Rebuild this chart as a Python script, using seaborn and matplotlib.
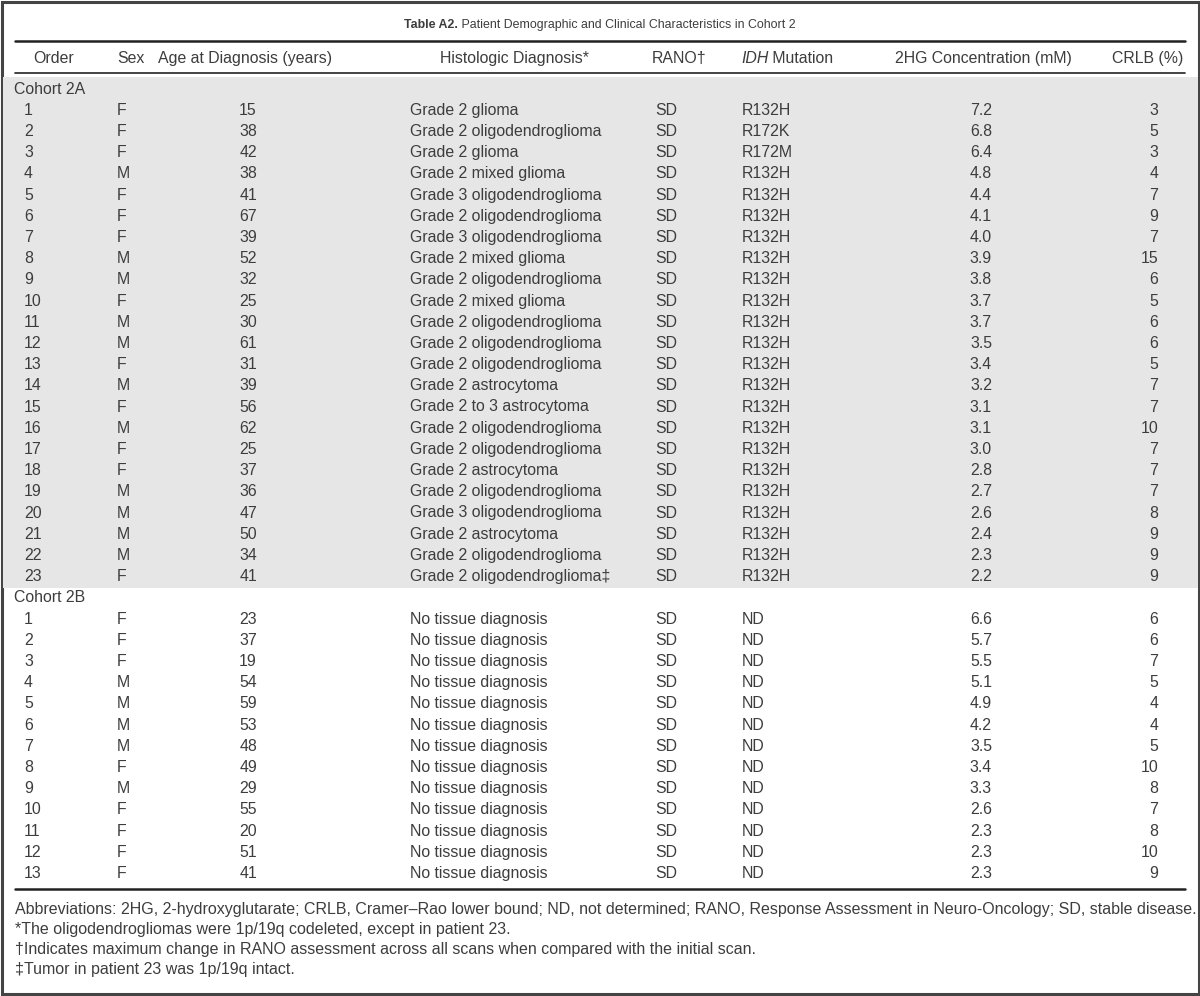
import matplotlib
matplotlib.use("Agg")
import matplotlib.pyplot as plt
import seaborn as sns
import pandas as pd
from matplotlib.patches import Rectangle

# ---- dados da tabela (Cohort 2A) ----
ordem_a = [1, 2, 3, 4, 5, 6, 7, 8, 9, 10, 11, 12, 13, 14, 15, 16, 17, 18, 19, 20, 21, 22, 23]
sexo_a = ["F", "F", "F", "M", "F", "F", "F", "M", "M", "F", "M", "M", "F", "M", "F", "M",
          "F", "F", "M", "M", "M", "M", "F"]
idade_a = [15, 38, 42, 38, 41, 67, 39, 52, 32, 25, 30, 61, 31, 39, 56, 62, 25, 37, 36, 47, 50, 34, 41]
histo_a = ["Grade 2 glioma", "Grade 2 oligodendroglioma", "Grade 2 glioma", "Grade 2 mixed glioma",
           "Grade 3 oligodendroglioma", "Grade 2 oligodendroglioma", "Grade 3 oligodendroglioma",
           "Grade 2 mixed glioma", "Grade 2 oligodendroglioma", "Grade 2 mixed glioma",
           "Grade 2 oligodendroglioma", "Grade 2 oligodendroglioma", "Grade 2 oligodendroglioma",
           "Grade 2 astrocytoma", "Grade 2 to 3 astrocytoma", "Grade 2 oligodendroglioma",
           "Grade 2 oligodendroglioma", "Grade 2 astrocytoma", "Grade 2 oligodendroglioma",
           "Grade 3 oligodendroglioma", "Grade 2 astrocytoma", "Grade 2 oligodendroglioma",
           "Grade 2 oligodendroglioma\u2021"]
rano_a = ["SD"] * 23
idh_a = ["R132H", "R172K", "R172M", "R132H", "R132H", "R132H", "R132H", "R132H", "R132H", "R132H",
         "R132H", "R132H", "R132H", "R132H", "R132H", "R132H", "R132H", "R132H", "R132H", "R132H",
         "R132H", "R132H", "R132H"]
hg_a = [7.2, 6.8, 6.4, 4.8, 4.4, 4.1, 4.0, 3.9, 3.8, 3.7, 3.7, 3.5, 3.4, 3.2, 3.1, 3.1, 3.0,
        2.8, 2.7, 2.6, 2.4, 2.3, 2.2]
crlb_a = [3, 5, 3, 4, 7, 9, 7, 15, 6, 5, 6, 6, 5, 7, 7, 10, 7, 7, 7, 8, 9, 9, 9]

# ---- dados da tabela (Cohort 2B) ----
ordem_b = [1, 2, 3, 4, 5, 6, 7, 8, 9, 10, 11, 12, 13]
sexo_b = ["F", "F", "F", "M", "M", "M", "M", "F", "M", "F", "F", "F", "F"]
idade_b = [23, 37, 19, 54, 59, 53, 48, 49, 29, 55, 20, 51, 41]
histo_b = ["No tissue diagnosis"] * 13
rano_b = ["SD"] * 13
idh_b = ["ND"] * 13
hg_b = [6.6, 5.7, 5.5, 5.1, 4.9, 4.2, 3.5, 3.4, 3.3, 2.6, 2.3, 2.3, 2.3]
crlb_b = [6, 6, 7, 5, 4, 4, 5, 10, 8, 7, 8, 10, 9]

cabecalhos = ["Order", "Sex", "Age at Diagnosis (years)", "Histologic Diagnosis*", "RANO\u2020",
              "IDH", "2HG Concentration (mM)", "CRLB (%)"]
titulo_negrito = "Table A2."
titulo = "Patient Demographic and Clinical Characteristics in Cohort 2"
notas = [
    "Abbreviations: 2HG, 2-hydroxyglutarate; CRLB, Cramer\u2013Rao lower bound; ND, not determined; "
    "RANO, Response Assessment in Neuro-Oncology; SD, stable disease.",
    "*The oligodendrogliomas were 1p/19q codeleted, except in patient 23.",
    "\u2020Indicates maximum change in RANO assessment across all scans when compared with the initial scan.",
    "\u2021Tumor in patient 23 was 1p/19q intact.",
]

df_a = pd.DataFrame({"ordem": ordem_a, "sexo": sexo_a, "idade": idade_a, "histo": histo_a,
                     "rano": rano_a, "idh": idh_a, "hg": hg_a, "crlb": crlb_a})
df_b = pd.DataFrame({"ordem": ordem_b, "sexo": sexo_b, "idade": idade_b, "histo": histo_b,
                     "rano": rano_b, "idh": idh_b, "hg": hg_b, "crlb": crlb_b})
coortes = [("Cohort 2A", df_a), ("Cohort 2B", df_b)]

sns.set_theme(style="white")
plt.rcParams["font.family"] = ["Liberation Sans", "DejaVu Sans"]

COR = "#3d3d3d"
FS = 11.4

fig = plt.figure(figsize=(12, 9.96), dpi=100)
ax = fig.add_axes([0, 0, 1, 1])
ax.set_xlim(0, 1200)
ax.set_ylim(996, 0)
ax.axis("off")
fig.canvas.draw()
rend = fig.canvas.get_renderer()


def largura(t):
    bb = t.get_window_extent(renderer=rend)
    return bb.width


# moldura e faixa cinza
ax.add_patch(Rectangle((1.5, 1.5), 1197, 992, fill=False, ec="#444444", lw=2.2))
ax.add_patch(Rectangle((2.5, 77), 1195, 511, fc="#e6e6e6", ec="none"))

# titulo
t1 = ax.text(0, 25, titulo_negrito, fontsize=8.9, fontweight="bold", color=COR, va="center")
t2 = ax.text(0, 25, " " + titulo, fontsize=8.9, color=COR, va="center")
w1, w2 = largura(t1), largura(t2)
x0 = 600 - (w1 + w2) / 2
t1.set_x(x0)
t2.set_x(x0 + w1)

# linhas horizontais
ax.plot([15, 1185], [41, 41], color="#222222", lw=1.8)
ax.plot([15, 1185], [73, 73], color="#222222", lw=1.2)
ax.plot([15, 1185], [888.5, 888.5], color="#222222", lw=1.8)

# cabecalho
yh = 58
ax.text(54, yh, cabecalhos[0], fontsize=FS, color=COR, ha="center", va="center")
ax.text(131, yh, cabecalhos[1], fontsize=FS, color=COR, ha="center", va="center")
ax.text(245, yh, cabecalhos[2], fontsize=FS, color=COR, ha="center", va="center")
ax.text(515, yh, cabecalhos[3], fontsize=FS, color=COR, ha="center", va="center")
ax.text(652, yh, cabecalhos[4], fontsize=FS, color=COR, ha="left", va="center")
ti = ax.text(741, yh, cabecalhos[5], fontsize=FS, color=COR, ha="left", va="center", style="italic")
ax.text(741 + largura(ti), yh, " Mutation", fontsize=FS, color=COR, ha="left", va="center")
ax.text(983, yh, cabecalhos[6], fontsize=FS, color=COR, ha="center", va="center")
ax.text(1148, yh, cabecalhos[7], fontsize=FS, color=COR, ha="center", va="center")

# linhas da tabela
y = 89
passo = 21.2
for rotulo, df in coortes:
    ax.text(14, y, rotulo, fontsize=FS, color=COR, ha="left", va="center")
    y += passo
    for _, r in df.iterrows():
        ax.text(24, y, str(r["ordem"]), fontsize=FS, color=COR, ha="left", va="center")
        ax.text(117, y, r["sexo"], fontsize=FS, color=COR, ha="left", va="center")
        ax.text(248, y, str(r["idade"]), fontsize=FS, color=COR, ha="center", va="center")
        ax.text(410, y, r["histo"], fontsize=FS, color=COR, ha="left", va="center")
        ax.text(655, y, r["rano"], fontsize=FS, color=COR, ha="left", va="center")
        ax.text(742, y, r["idh"], fontsize=FS, color=COR, ha="left", va="center")
        ax.text(981, y, f"{r['hg']:.1f}", fontsize=FS, color=COR, ha="center", va="center")
        ax.text(1158, y, str(r["crlb"]), fontsize=FS, color=COR, ha="right", va="center")
        y += passo

# notas de rodape
for i, nota in enumerate(notas):
    ax.text(15, 909 + i * 20, nota, fontsize=11.5, color=COR, ha="left", va="center")

fig.savefig("out.png", dpi=100)
plt.close(fig)
